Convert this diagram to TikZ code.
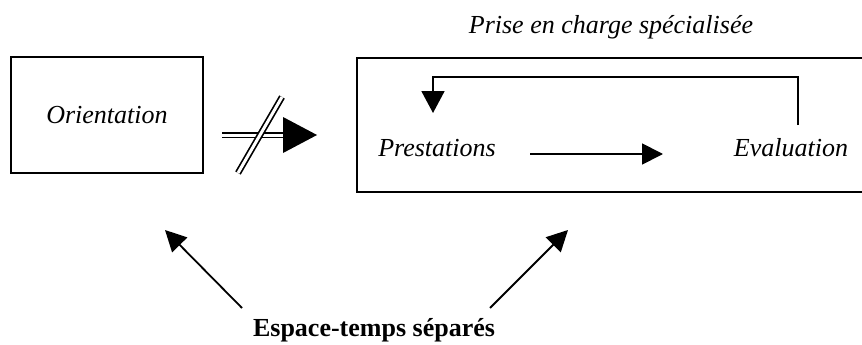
\documentclass[tikz,border=0pt]{standalone}
\usepackage{fontspec}
\setmainfont{Liberation Serif}
\usetikzlibrary{arrows.meta}
\tikzset{
  box/.style={draw, line width=1.8pt, inner sep=0pt},
  lbl/.style={font=\fontsize{26}{30}\selectfont\itshape, inner sep=0pt},
  conn/.style={line width=1.8pt, -{Triangle[length=21pt,width=21pt]}},
  dbl/.style={double, line width=1.7pt, double distance=3pt},
}
\begin{document}
\begin{tikzpicture}[x=1pt,y=-1pt]
\useasboundingbox (0,0) rectangle (862,345);
% boxes
\node[box, minimum width=192pt, minimum height=116pt] (orbox) at (107,115) {};
\node[box, minimum width=523pt, minimum height=134pt] (pcbox) at (618.5,125) {};
% texts
\node[lbl] (title) at (611,27) {Prise en charge spécialisée};
\node[lbl] (orient) at (107,115) {Orientation};
\node[lbl] (prest) at (437,148) {Prestations};
\node[lbl] (eval) at (791,148) {Evaluation};
\node[font=\fontsize{26}{30}\selectfont\bfseries, inner sep=0pt] (esp) at (374,330) {Espace-temps séparés};
% forward arrow
\coordinate (fa) at (530,154);
\coordinate (fb) at (663,154);
\draw[conn] (fa) -- (fb);
% feedback loop
\coordinate (eb) at (798,125);
\coordinate (pt) at (433,113);
\draw[line width=1.8pt, -{Triangle[length=22pt,width=23pt]}] (eb) -- (798,77) -| (pt);
% blocked double arrow
\coordinate (da) at (222,135);
\coordinate (db) at (284,135);
\coordinate (dt) at (317,135);
\draw[dbl] (da) -- (db);
\fill (283,117) -- (dt) -- (283,153) -- cycle;
\coordinate (sa) at (238,173);
\coordinate (sb) at (282,97);
\draw[dbl] (sa) -- (sb);
% diagonal arrows
\coordinate (la) at (242,308);
\coordinate (lb) at (165,230);
\coordinate (ra) at (490,308);
\coordinate (rb) at (568,230);
\draw[conn] (la) -- (lb);
\draw[conn] (ra) -- (rb);
\end{tikzpicture}
\end{document}
